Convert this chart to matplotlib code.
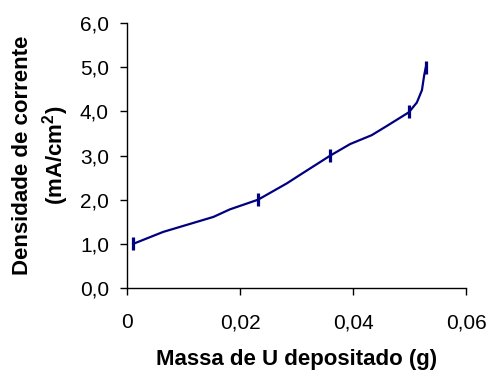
import matplotlib
matplotlib.use("Agg")
import matplotlib.pyplot as plt

plt.rcParams['font.family'] = ['Liberation Sans', 'DejaVu Sans']
plt.rcParams['mathtext.fontset'] = 'custom'
plt.rcParams['mathtext.rm'] = 'Liberation Sans:bold'
plt.rcParams['mathtext.bf'] = 'Liberation Sans:bold'
plt.rcParams['mathtext.default'] = 'bf'

# current density vs deposited U mass
mass = [0.0011, 0.0064, 0.0153, 0.0182, 0.0232, 0.0283, 0.0306, 0.0360,
        0.0395, 0.0433, 0.0460, 0.0499, 0.0513, 0.0522, 0.0526, 0.0529]
density = [1.0, 1.27, 1.61, 1.78, 2.0, 2.37, 2.56, 3.0,
           3.26, 3.46, 3.67, 3.98, 4.2, 4.48, 4.82, 5.01]

# points with error bars
mass_err = [0.0011, 0.0232, 0.0360, 0.0499, 0.0529]
dens_err = [1.0, 2.0, 3.0, 4.0, 5.0]
err = 0.15

xticks = [0, 0.02, 0.04, 0.06]
xtick_labels = ['0', '0,02', '0,04', '0,06']
yticks = [0, 1, 2, 3, 4, 5, 6]
ytick_labels = ['0,0', '1,0', '2,0', '3,0', '4,0', '5,0', '6,0']

navy = '#000080'

fig = plt.figure(figsize=(4.89, 3.70), dpi=100)
ax = fig.add_axes([0.2597, 0.2216, 0.6933, 0.7162])

ax.plot(mass, density, color=navy, lw=1.6)
ax.errorbar(mass_err, dens_err, yerr=err, fmt='none', ecolor=navy,
            elinewidth=2.3, capsize=0)

ax.set_xlim(0, 0.06)
ax.set_ylim(0, 6)
ax.set_xticks(xticks)
ax.set_xticklabels(xtick_labels)
ax.set_yticks(yticks)
ax.set_yticklabels(ytick_labels)

for s in ['top', 'right']:
    ax.spines[s].set_visible(False)
for s in ['left', 'bottom']:
    ax.spines[s].set_linewidth(1.0)

ax.tick_params(axis='x', direction='out', length=5, width=1.0,
               labelsize=15, pad=13)
ax.tick_params(axis='y', direction='out', length=5, width=1.0,
               labelsize=15, pad=8)

ax.set_xlabel('Massa de U depositado (g)', fontsize=16, fontweight='bold',
              va='center')
ax.xaxis.set_label_coords(0.5, -0.268)

ax.set_ylabel('Densidade de corrente\n(mA/cm$^2$)', fontsize=16,
              fontweight='bold', linespacing=1.35, va='center', ha='center')
ax.yaxis.set_label_coords(-0.252, 0.5)

fig.savefig('out.png', dpi=100)
